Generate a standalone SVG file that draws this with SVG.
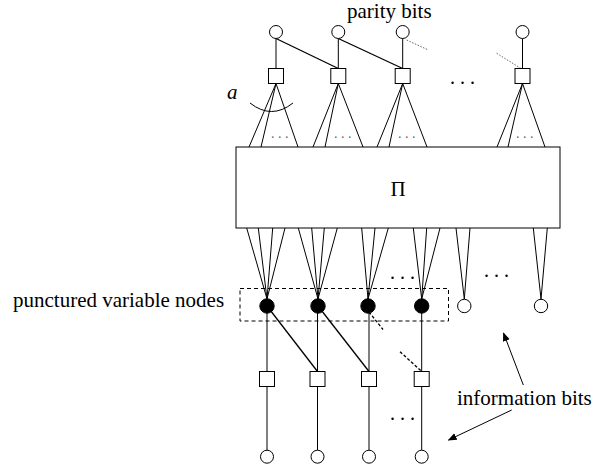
<svg xmlns="http://www.w3.org/2000/svg" width="616" height="467" viewBox="0 0 616 467">
  <style>
    text { font-family: "Liberation Serif", "Times New Roman", "DejaVu Serif", serif; }
    .lbl { font-size: 21px; fill: #000; }
    .dots { font-size: 20px; fill: #000; }
    .sdots { font-size: 14px; fill: #666; }
    .ln { stroke: #000; stroke-width: 1; fill: none; }
    .dk { stroke: #000; stroke-width: 1.3; fill: none; }
    .dot { stroke: #666; stroke-width: 1; stroke-dasharray: 1.5 1.5; fill: none; }
    .dash { stroke: #000; stroke-width: 1.3; stroke-dasharray: 3 2; fill: none; }
    .vn { fill: #fff; stroke: #000; stroke-width: 1; }
    .pn { fill: #000; stroke: #000; stroke-width: 1; }
    .cn { fill: #fff; stroke: #000; stroke-width: 1; }
  </style>
  <defs>
    <marker id="arrow" viewBox="0 0 10 10" refX="9" refY="5" markerWidth="9" markerHeight="9" markerUnits="userSpaceOnUse" orient="auto">
      <path d="M0,1 L10,5 L0,9 Z" fill="#000"/>
    </marker>
  </defs>
  <rect width="616" height="467" fill="#fff"/>

  <!-- connectors -->
  <g id="connectors">
    <!-- parity chain -->
    <line class="ln" x1="276" y1="38.5" x2="276" y2="68.5"/>
    <line class="ln" x1="338.3" y1="38.5" x2="338.3" y2="68.5"/>
    <line class="ln" x1="402.7" y1="38.5" x2="402.7" y2="68.5"/>
    <line class="ln" x1="522.5" y1="38.5" x2="522.5" y2="68.5"/>
    <line class="dk" x1="276" y1="38.5" x2="338.3" y2="68.5"/>
    <line class="dk" x1="338.3" y1="38.5" x2="402.7" y2="68.5"/>
    <line class="dot" x1="406.7" y1="40" x2="428.3" y2="50"/>
    <line class="dot" x1="496.7" y1="53.3" x2="521" y2="68.5"/>

    <!-- check node fans into the interleaver -->
    <path class="ln" d="M249,147 L276,83.5 L298,147 M276,83.5 L261,147"/>
    <path class="ln" d="M313,147 L338.3,83.5 L363,147 M338.3,83.5 L325,147"/>
    <path class="ln" d="M377,147 L402.7,83.5 L427,147 M402.7,83.5 L389,147"/>
    <path class="ln" d="M497,147 L522.5,83.5 L545,147 M522.5,83.5 L508,147"/>
    <path class="ln" d="M250,103 Q271.5,120 293,103"/>

    <!-- interleaver fans to variable nodes -->
    <path class="ln" d="M246.7,228 L267,299 M258.3,228 L267,299 M272.7,228 L267,299 M285,228 L267,299"/>
    <path class="ln" d="M298.3,228 L318,299 M311.7,228 L318,299 M324.3,228 L318,299 M337.3,228 L318,299"/>
    <path class="ln" d="M361.7,228 L368,299 M375,228 L368,299 M388.3,228 L368,299"/>
    <path class="ln" d="M413.3,228 L421.7,299 M426.7,228 L421.7,299 M440,228 L421.7,299"/>
    <path class="ln" d="M456,228 L464.3,299 M470,228 L464.3,299"/>
    <path class="ln" d="M533.3,228 L541,299 M547.3,228 L541,299"/>

    <!-- accumulator chain -->
    <line class="ln" x1="267" y1="306" x2="267" y2="371.5"/>
    <line class="ln" x1="317.5" y1="306" x2="317.5" y2="371.5"/>
    <line class="ln" x1="369" y1="306" x2="369" y2="371.5"/>
    <line class="ln" x1="421.7" y1="306" x2="421.7" y2="371.5"/>
    <line class="dk" x1="267" y1="306" x2="317.5" y2="371.5"/>
    <line class="dk" x1="318" y1="306" x2="369" y2="371.5"/>
    <line class="dash" x1="369" y1="312" x2="383" y2="329.5"/>
    <line class="dash" x1="400" y1="351.7" x2="421.7" y2="371.5"/>

    <!-- systematic outputs -->
    <line class="ln" x1="267" y1="386.5" x2="267" y2="450"/>
    <line class="ln" x1="317.5" y1="386.5" x2="317.5" y2="450"/>
    <line class="ln" x1="369" y1="386.5" x2="369" y2="450"/>
    <line class="ln" x1="421.7" y1="386.5" x2="421.7" y2="450"/>

    <!-- label arrows -->
    <line class="ln" x1="523.3" y1="385" x2="503.5" y2="333" marker-end="url(#arrow)"/>
    <line class="ln" x1="511.7" y1="410" x2="448.5" y2="440" marker-end="url(#arrow)"/>
  </g>

  <!-- parity bit nodes -->
  <g id="parity-nodes">
    <circle class="vn" cx="276" cy="32" r="6.5"/>
    <circle class="vn" cx="338.3" cy="32" r="6.5"/>
    <circle class="vn" cx="402.7" cy="32" r="6.5"/>
    <circle class="vn" cx="522.5" cy="32" r="6.5"/>
  </g>

  <!-- upper check nodes -->
  <g id="upper-checks">
    <rect class="cn" x="268.5" y="68.5" width="15" height="15"/>
    <rect class="cn" x="330.8" y="68.5" width="15" height="15"/>
    <rect class="cn" x="395.2" y="68.5" width="15" height="15"/>
    <rect class="cn" x="515" y="68.5" width="15" height="15"/>
  </g>

  <!-- interleaver -->
  <g id="interleaver">
    <rect x="236" y="147" width="324" height="81" fill="#fff" stroke="#000" stroke-width="1"/>
    <text class="lbl" x="398" y="196" text-anchor="middle" font-size="19">Π</text>
  </g>

  <!-- punctured variable nodes -->
  <g id="punctured">
    <rect x="240" y="288.5" width="208.5" height="32.5" fill="none" stroke="#000" stroke-width="1" stroke-dasharray="4 3"/>
    <circle class="pn" cx="267" cy="306" r="7.2"/>
    <circle class="pn" cx="318" cy="306" r="7.2"/>
    <circle class="pn" cx="368" cy="306" r="7.2"/>
    <circle class="pn" cx="421.7" cy="306" r="7.2"/>
  </g>

  <!-- information variable nodes -->
  <g id="info-nodes">
    <circle class="vn" cx="464.3" cy="306" r="6.7"/>
    <circle class="vn" cx="541" cy="306" r="6.7"/>
  </g>

  <!-- lower check nodes -->
  <g id="lower-checks">
    <rect class="cn" x="259.5" y="371.5" width="15" height="15"/>
    <rect class="cn" x="310" y="371.5" width="15" height="15"/>
    <rect class="cn" x="361.5" y="371.5" width="15" height="15"/>
    <rect class="cn" x="414.2" y="371.5" width="15" height="15"/>
  </g>

  <!-- systematic bit nodes -->
  <g id="systematic-nodes">
    <circle class="vn" cx="267" cy="456.7" r="6.5"/>
    <circle class="vn" cx="317.5" cy="456.7" r="6.5"/>
    <circle class="vn" cx="369" cy="456.7" r="6.5"/>
    <circle class="vn" cx="421.7" cy="456.7" r="6.5"/>
  </g>

  <!-- labels and ellipses -->
  <g id="labels">
    <text class="lbl" x="347" y="18">parity bits</text>
    <text class="lbl" x="13" y="307">punctured variable nodes</text>
    <text class="lbl" x="457" y="405">information bits</text>
    <text class="lbl" x="227" y="99" font-style="italic" font-size="17">a</text>
    <text class="dots" x="450" y="84">. . .</text>
    <text class="dots" x="390" y="279">. . .</text>
    <text class="dots" x="484" y="277">. . .</text>
    <text class="dots" x="390" y="420">. . .</text>
    <text class="sdots" x="271" y="138">. . .</text>
    <text class="sdots" x="334" y="138">. . .</text>
    <text class="sdots" x="398" y="138">. . .</text>
    <text class="sdots" x="516" y="138">. . .</text>
  </g>
</svg>
